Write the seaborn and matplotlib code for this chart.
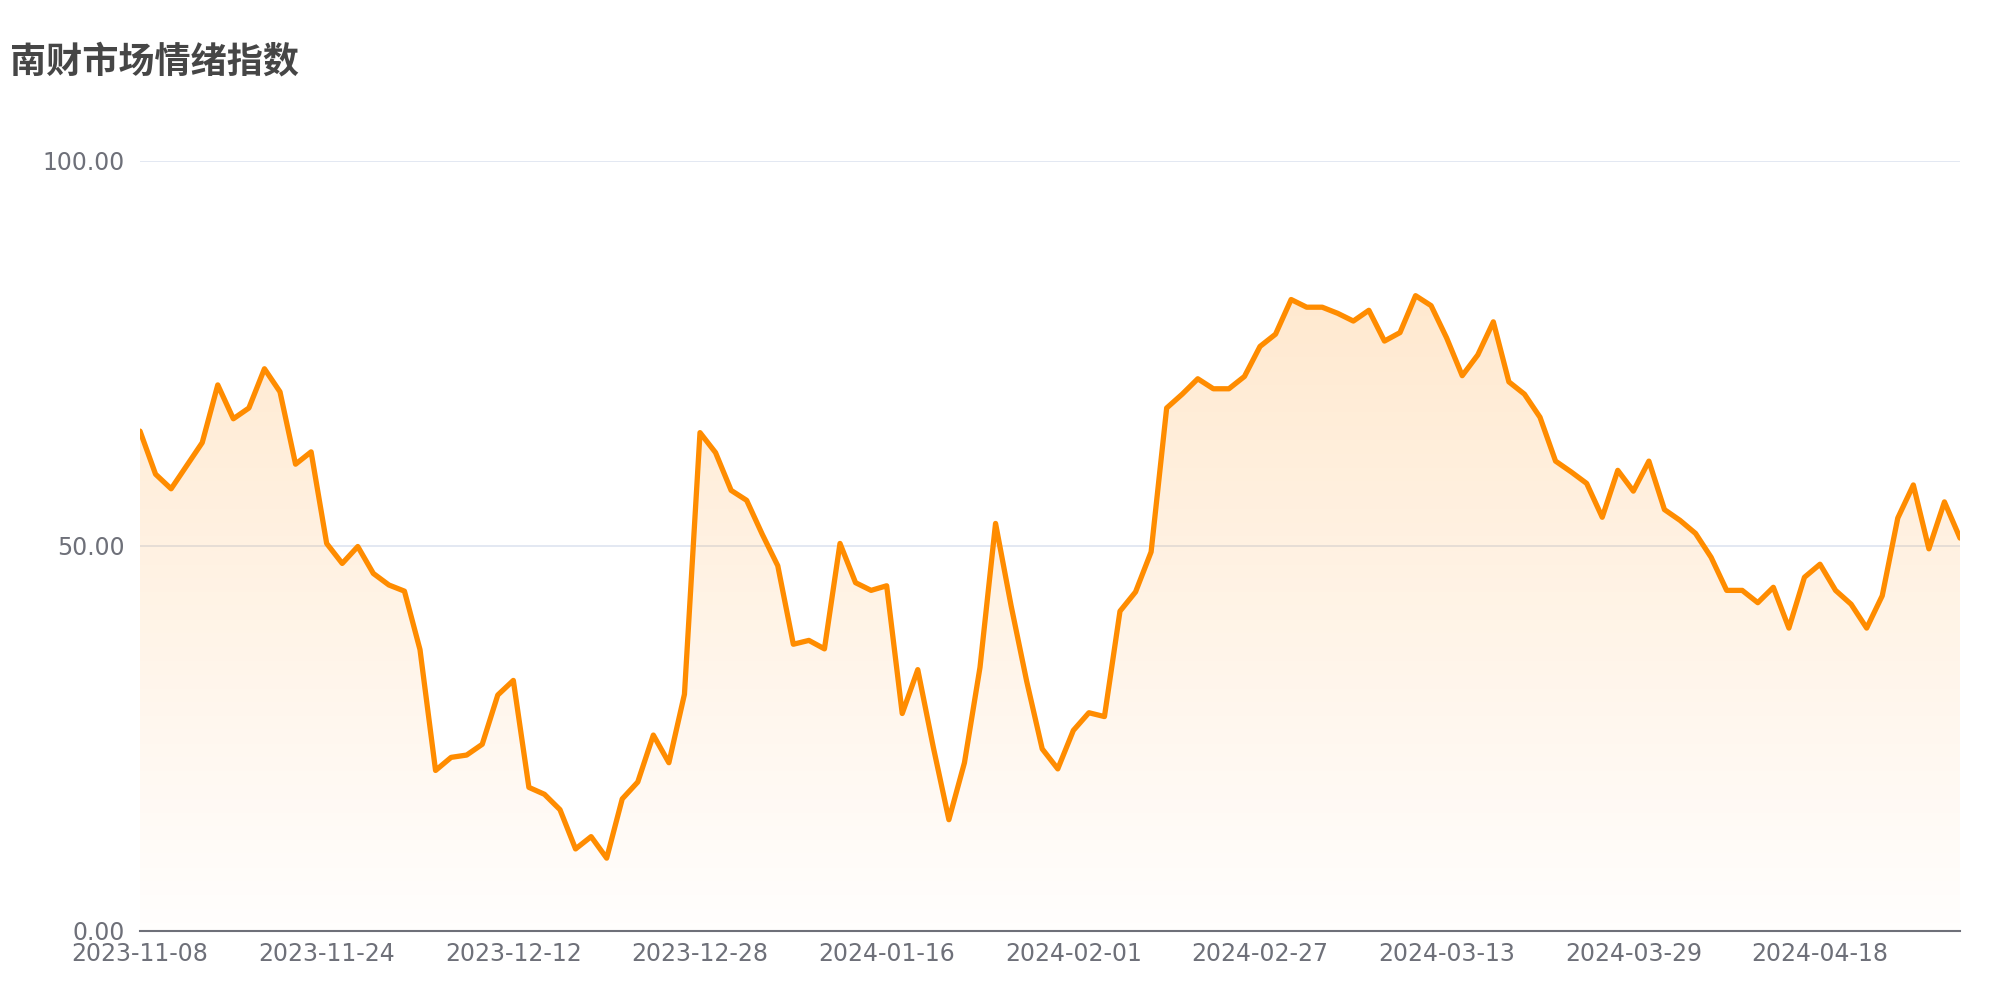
import numpy as np
import pandas as pd
import seaborn as sns
import matplotlib.pyplot as plt
from matplotlib.colors import LinearSegmentedColormap

# Sentiment index values (one per trading day)
values = [
    64.9, 59.3, 57.4, 60.4, 63.4, 70.9, 66.5, 67.9, 73.0, 70.0,
    60.6, 62.2, 50.3, 47.7, 49.9, 46.4, 44.9, 44.1, 36.5, 20.8,
    22.5, 22.8, 24.2, 30.6, 32.5, 18.6, 17.7, 15.7, 10.6, 12.2,
    9.4, 17.1, 19.3, 25.4, 21.8, 30.7, 64.7, 62.1, 57.2, 55.9,
    51.5, 47.4, 37.2, 37.7, 36.6, 50.3, 45.2, 44.2, 44.8, 28.2,
    33.9, 23.8, 14.4, 21.8, 34.2, 52.9, 42.2, 32.4, 23.6, 21.0,
    26.0, 28.3, 27.8, 41.5, 44.0, 49.2, 67.9, 69.7, 71.7, 70.4,
    70.4, 72.0, 75.9, 77.5, 82.0, 81.0, 81.0, 80.2, 79.2, 80.6,
    76.6, 77.7, 82.5, 81.2, 77.0, 72.1, 74.8, 79.1, 71.3, 69.7,
    66.7, 61.0, 59.6, 58.1, 53.7, 59.8, 57.1, 61.0, 54.7, 53.3,
    51.6, 48.5, 44.2, 44.2, 42.6, 44.6, 39.3, 45.9, 47.6, 44.2,
    42.4, 39.3, 43.5, 53.6, 57.9, 49.6, 55.7, 51.0,
]

# Date labels shown on the category axis (every 12th trading day)
tick_labels = [
    "2023-11-08", "2023-11-24", "2023-12-12", "2023-12-28", "2024-01-16",
    "2024-02-01", "2024-02-27", "2024-03-13", "2024-03-29", "2024-04-18",
]
label_step = 12

y_ticks = [0, 50, 100]

df = pd.DataFrame({"idx": np.arange(len(values)), "value": values})

sns.set_theme(style="white")
plt.rcParams["font.family"] = ["DejaVu Sans", "Noto Sans CJK SC"]

fig = plt.figure(figsize=(20, 10), dpi=100)
ax = fig.add_axes([0.07, 0.0695, 0.91, 0.7695])

line_color = "#FF8C00"

# gradient area under the line
fill = ax.fill_between(df["idx"], df["value"], 0, color="none", lw=0)
grad = np.linspace(0, 1, 256).reshape(-1, 1)
cmap = LinearSegmentedColormap.from_list(
    "g", [(1.0, 0.549, 0.0, 0.01), (1.0, 0.549, 0.0, 0.19)]
)
img = ax.imshow(
    grad, aspect="auto", cmap=cmap, origin="lower",
    extent=[0, len(values) - 1, 0, max(values)], zorder=1,
)
img.set_clip_path(fill.get_paths()[0], transform=ax.transData)

sns.lineplot(data=df, x="idx", y="value", ax=ax, color=line_color,
             linewidth=3.8, zorder=3)

ax.set_xlim(0, len(values) - 1)
ax.set_ylim(0, 100)
ax.set_yticks(y_ticks)
ax.set_yticklabels([f"{v:.2f}" for v in y_ticks])
ax.set_xticks(np.arange(0, len(values), label_step)[:len(tick_labels)])
ax.set_xticklabels(tick_labels)
ax.grid(axis="y", color="#E0E6F1", linewidth=1.3)
ax.set_axisbelow(True)

for s in ["top", "right", "left"]:
    ax.spines[s].set_visible(False)
ax.spines["bottom"].set_color("#6E7079")
ax.spines["bottom"].set_linewidth(1.5)

ax.tick_params(axis="both", length=0, labelsize=17, labelcolor="#6E7079")
ax.tick_params(axis="y", pad=11)
ax.tick_params(axis="x", pad=8)
ax.set_xlabel("")
ax.set_ylabel("")

fig.text(0.005, 0.938, "南财市场情绪指数", fontsize=26, fontweight="bold",
         color="#464646", family=["Noto Sans CJK SC", "DejaVu Sans"],
         ha="left", va="center")

fig.savefig("out.png", dpi=100, facecolor="white")
